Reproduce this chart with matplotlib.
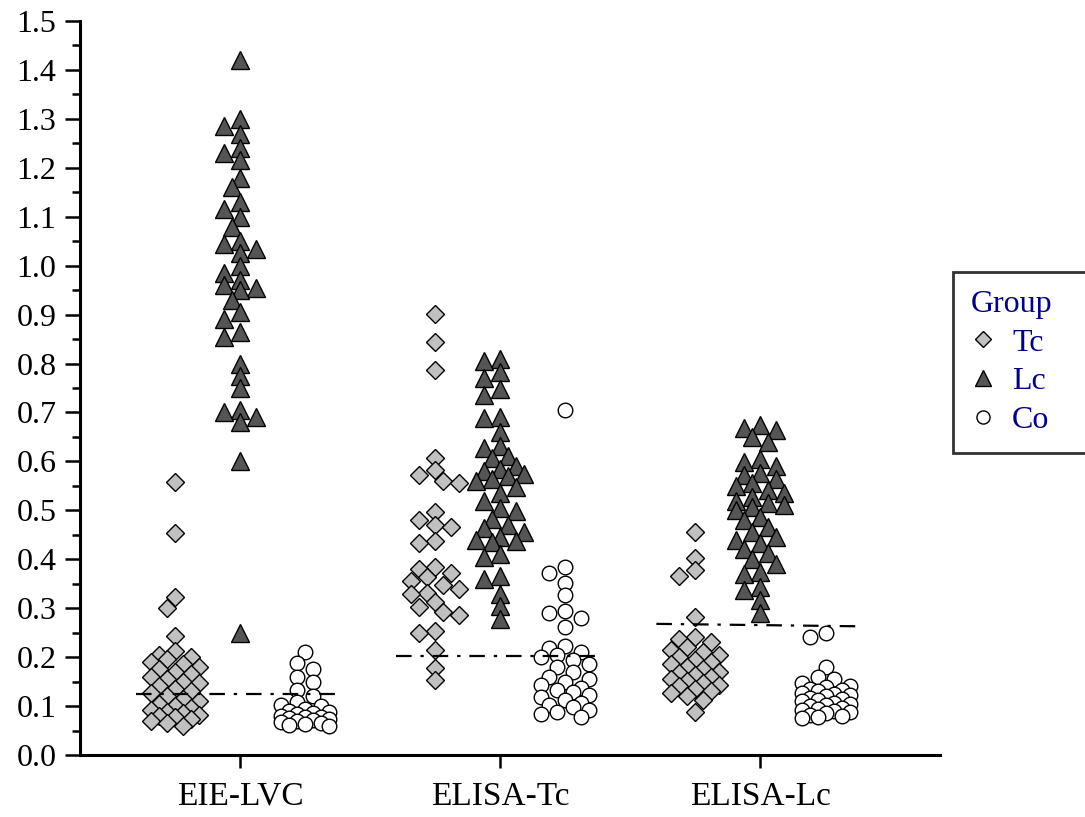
import numpy as np
import matplotlib
matplotlib.use("Agg")
import matplotlib.pyplot as plt
from matplotlib.lines import Line2D

plt.rcParams["font.family"] = ["Liberation Serif", "DejaVu Serif"]

# =========================
# Data
# =========================
categories = ["EIE-LVC", "ELISA-Tc", "ELISA-Lc"]
series = ["Tc", "Lc", "Co"]

eie_tc = [0.558, 0.454, 0.323, 0.300, 0.243,
          0.213, 0.205, 0.200, 0.197, 0.190, 0.185, 0.180, 0.175, 0.170, 0.165,
          0.160, 0.155, 0.150, 0.147, 0.140, 0.135, 0.130, 0.127, 0.120, 0.115,
          0.110, 0.105, 0.100, 0.097, 0.092, 0.088, 0.085, 0.082, 0.080, 0.077,
          0.073, 0.070, 0.065, 0.060]
eie_lc = [1.42, 1.30, 1.285, 1.27, 1.24, 1.23, 1.215, 1.18, 1.16, 1.13, 1.115,
          1.10, 1.08, 1.05, 1.045, 1.035, 1.025, 1.00, 0.985, 0.97, 0.96, 0.955,
          0.95, 0.93, 0.905, 0.89, 0.865, 0.855, 0.80, 0.775, 0.75, 0.705, 0.70,
          0.69, 0.68, 0.60, 0.25]
eie_co = [0.210, 0.188, 0.175, 0.160, 0.150, 0.133, 0.120, 0.108, 0.102, 0.100,
          0.095, 0.090, 0.088, 0.085, 0.083, 0.080, 0.078, 0.077, 0.075, 0.073,
          0.072, 0.070, 0.068, 0.066, 0.064, 0.062, 0.060]

elt_tc = [0.902, 0.845, 0.787, 0.607, 0.582, 0.572, 0.560, 0.555, 0.497, 0.480,
          0.470, 0.466, 0.437, 0.433, 0.385, 0.380, 0.372, 0.364, 0.355, 0.347,
          0.340, 0.332, 0.328, 0.312, 0.303, 0.292, 0.286, 0.254, 0.250, 0.215,
          0.178, 0.153]
elt_lc = [0.810, 0.806, 0.783, 0.770, 0.748, 0.735, 0.690, 0.688, 0.660, 0.632,
          0.627, 0.612, 0.607, 0.590, 0.585, 0.580, 0.575, 0.570, 0.565, 0.560,
          0.548, 0.535, 0.520, 0.505, 0.498, 0.482, 0.470, 0.463, 0.455, 0.445,
          0.440, 0.437, 0.435, 0.410, 0.405, 0.365, 0.360, 0.330, 0.305, 0.278]
elt_co = [0.705, 0.384, 0.372, 0.352, 0.327, 0.295, 0.290, 0.280, 0.262, 0.222,
          0.218, 0.210, 0.205, 0.200, 0.195, 0.185, 0.180, 0.170, 0.160, 0.155,
          0.150, 0.143, 0.137, 0.133, 0.128, 0.122, 0.118, 0.112, 0.107, 0.102,
          0.098, 0.092, 0.088, 0.083, 0.078]

ell_tc = [0.456, 0.403, 0.378, 0.366, 0.282, 0.241, 0.238, 0.230, 0.221, 0.215,
          0.210, 0.205, 0.200, 0.195, 0.190, 0.185, 0.180, 0.175, 0.170, 0.167,
          0.163, 0.160, 0.155, 0.152, 0.148, 0.143, 0.140, 0.135, 0.130, 0.127,
          0.120, 0.113, 0.088]
ell_lc = [0.674, 0.668, 0.664, 0.650, 0.640, 0.605, 0.598, 0.590, 0.577, 0.572,
          0.565, 0.556, 0.550, 0.542, 0.535, 0.528, 0.520, 0.515, 0.510, 0.507,
          0.500, 0.487, 0.480, 0.466, 0.455, 0.445, 0.440, 0.433, 0.420, 0.413,
          0.400, 0.390, 0.375, 0.370, 0.343, 0.337, 0.316, 0.290]
ell_co = [0.249, 0.241, 0.180, 0.160, 0.155, 0.147, 0.140, 0.138, 0.135, 0.132,
          0.130, 0.127, 0.125, 0.122, 0.120, 0.117, 0.115, 0.112, 0.110, 0.107,
          0.105, 0.102, 0.100, 0.097, 0.095, 0.092, 0.090, 0.087, 0.085, 0.082,
          0.080, 0.078, 0.075]

values = {
    "EIE-LVC": {"Tc": eie_tc, "Lc": eie_lc, "Co": eie_co},
    "ELISA-Tc": {"Tc": elt_tc, "Lc": elt_lc, "Co": elt_co},
    "ELISA-Lc": {"Tc": ell_tc, "Lc": ell_lc, "Co": ell_co},
}

# cut-off lines (left end, right end)
cutoff_left = [0.125, 0.202, 0.268]
cutoff_right = [0.125, 0.202, 0.263]

# =========================
# Styles
# =========================
style = {
    "Tc": dict(marker="D", ms=9.2, mfc="#c0c0c0", shift=-0.25),
    "Lc": dict(marker="^", ms=13.5, mfc="#555555", shift=0.0),
    "Co": dict(marker="o", ms=10.5, mfc="white", shift=0.25),
}

W, H, DPI = 10.85, 8.17, 100
ax_left, ax_right = 80 / 1085, 940 / 1085
ax_bottom, ax_top = 1 - 755 / 817, 1 - 21 / 817
xlim = (0.385, 3.69)
ylim = (0.0, 1.5)

# pixel scales for the swarm layout
px_per_x = (ax_right - ax_left) * W * DPI / (xlim[1] - xlim[0])
px_per_y = (ax_top - ax_bottom) * H * DPI / (ylim[1] - ylim[0])


def swarm(vals, step=8.0, min_d=12.0, max_k=3):
    """simple deterministic beeswarm, offsets returned in x data units"""
    placed = []
    offs = []
    for v in vals:
        y = v * px_per_y
        best_x, best_d = 0.0, -1.0
        for k in [0, -1, 1, -2, 2, -3, 3][: 2 * max_k + 1]:
            x = k * step
            d = min([np.hypot(x - px, y - py) for px, py in placed] or [1e9])
            if d >= min_d:
                best_x = x
                break
            if d > best_d:
                best_d, best_x = d, x
        placed.append((best_x, y))
        offs.append(best_x / px_per_x)
    return np.array(offs)


fig = plt.figure(figsize=(W, H), dpi=DPI)
ax = fig.add_axes([ax_left, ax_bottom, ax_right - ax_left, ax_top - ax_bottom])

xpos = np.arange(1, len(categories) + 1)
for i, cat in enumerate(categories):
    for s in series:
        st = style[s]
        v = np.array(values[cat][s])
        x = xpos[i] + st["shift"] + swarm(v)
        ax.plot(x, v, ls="none", marker=st["marker"], ms=st["ms"],
                mfc=st["mfc"], mec="black", mew=1.0, zorder=3)
    ax.plot([xpos[i] - 0.4, xpos[i] + 0.38], [cutoff_left[i], cutoff_right[i]],
            color="black", lw=1.6, ls=(0, (7, 4, 1.5, 4)), zorder=4)

ax.set_xlim(*xlim)
ax.set_ylim(*ylim)
ax.set_xticks(xpos)
ax.set_xticklabels(categories, fontsize=24)
ax.set_yticks(np.arange(0, 1.51, 0.1))
ax.set_yticklabels([f"{t:.1f}" for t in np.arange(0, 1.51, 0.1)], fontsize=23)
ax.set_yticks(np.arange(0.05, 1.5, 0.1), minor=True)

for side in ["top", "right"]:
    ax.spines[side].set_visible(False)
for side in ["left", "bottom"]:
    ax.spines[side].set_linewidth(2.2)
ax.tick_params(axis="y", which="major", length=11, width=1.8, pad=6)
ax.tick_params(axis="y", which="minor", length=6, width=1.8)
ax.tick_params(axis="x", which="major", length=9, width=1.8, pad=10)

handles = [Line2D([], [], ls="none", marker=style[s]["marker"],
                  ms=style[s]["ms"] * 0.9, mfc=style[s]["mfc"], mec="black", mew=1.0)
           for s in series]
leg = fig.legend(handles, series, title="Group", loc="upper left",
                 bbox_to_anchor=(953 / 1085, 1 - 272 / 817, 0.2, 0.0), mode="expand",
                 borderaxespad=0.0,
                 fontsize=23, title_fontsize=23, labelcolor="#000080",
                 frameon=True, fancybox=False, edgecolor="black",
                 handlelength=0.8, handletextpad=0.5, labelspacing=0.3,
                 borderpad=0.55, alignment="left")
leg.get_title().set_color("#000080")
leg.get_frame().set_linewidth(2.0)

fig.savefig("out.png", dpi=DPI, facecolor="white")
